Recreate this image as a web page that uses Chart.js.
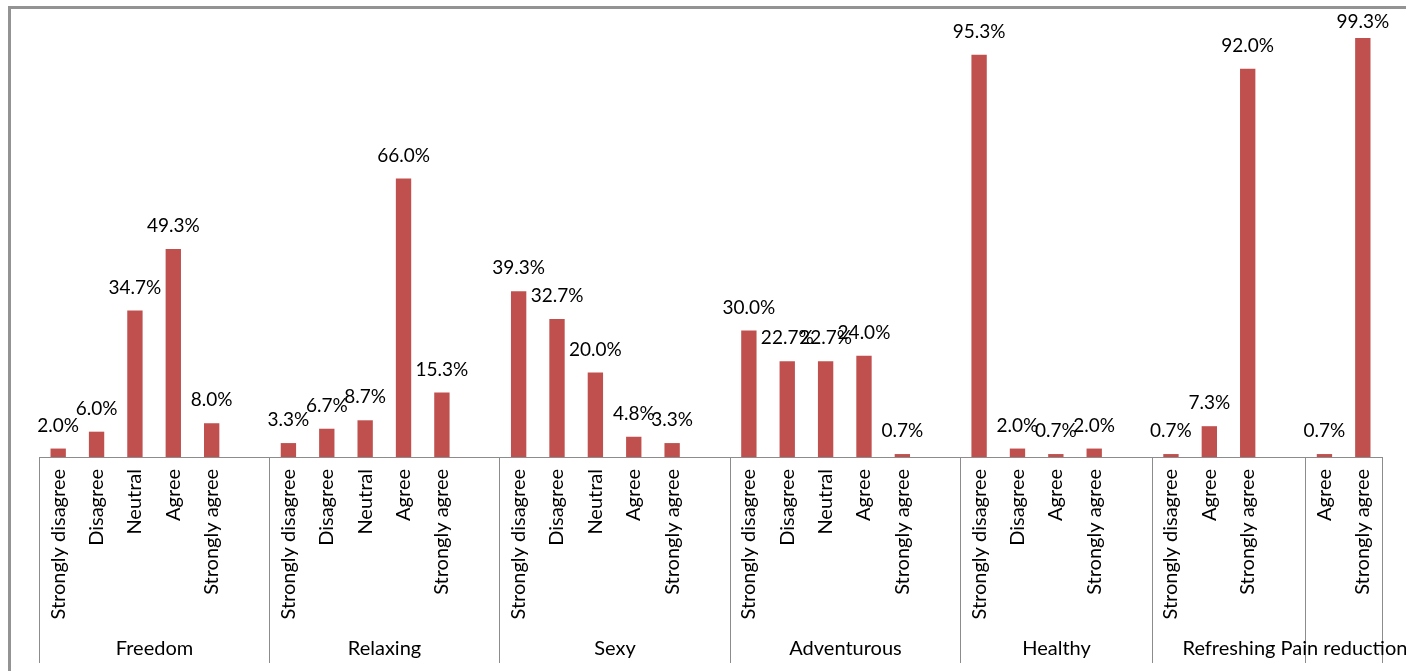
<!DOCTYPE html>
<html>
<head>
<meta charset="utf-8">
<script src="https://cdn.jsdelivr.net/npm/chart.js@4/dist/chart.umd.min.js"></script>
<style>
  html, body { margin: 0; padding: 0; background: #fff; overflow: hidden; }
  #frame { position: absolute; left: 8px; top: 6px; width: 1500px; height: 800px; border: 3px solid #939393; }
  #wrap { position: absolute; left: 0; top: 0; width: 1406px; height: 671px; }
</style>
</head>
<body>
<div id="frame"></div>
<div id="wrap"><canvas id="grafico"></canvas></div>
<script>
// Groups of statements and the answers shown under each one
const grupos = ['Freedom', 'Relaxing', 'Sexy', 'Adventurous', 'Healthy', 'Refreshing', 'Pain reduction'];

const respostas = [
    ['Strongly disagree', 'Disagree', 'Neutral', 'Agree', 'Strongly agree'],
    ['Strongly disagree', 'Disagree', 'Neutral', 'Agree', 'Strongly agree'],
    ['Strongly disagree', 'Disagree', 'Neutral', 'Agree', 'Strongly agree'],
    ['Strongly disagree', 'Disagree', 'Neutral', 'Agree', 'Strongly agree'],
    ['Strongly disagree', 'Disagree', 'Agree', 'Strongly agree'],
    ['Strongly disagree', 'Agree', 'Strongly agree'],
    ['Agree', 'Strongly agree']
];

// Percentages per answer (%)
const percentuais = [
    [2.0, 6.0, 34.7, 49.3, 8.0],
    [3.3, 6.7, 8.7, 66.0, 15.3],
    [39.3, 32.7, 20.0, 4.8, 3.3],
    [30.0, 22.7, 22.7, 24.0, 0.7],
    [95.3, 2.0, 0.7, 2.0],
    [0.7, 7.3, 92.0],
    [0.7, 99.3]
];

const COR_BARRA = '#C0504D';
const COR_EIXO = '#8c8c8c';
const FONTE = 'Lato, "Open Sans", sans-serif';

// Flatten into one category axis, with an empty slot after every group but the last
const rotulos = [];
const valores = [];
const faixas = []; // [first slot, slot after last] of each group
grupos.forEach(function(g, i) {
    const inicio = rotulos.length;
    respostas[i].forEach(function(r, j) {
        rotulos.push(r);
        valores.push(percentuais[i][j]);
    });
    if (i < grupos.length - 1) {
        rotulos.push('');
        valores.push(null);
    }
    faixas.push([inicio, rotulos.length]);
});

// Group separators and group names under the rotated answer labels
const eixoAgrupado = {
    id: 'eixoAgrupado',
    afterDraw(chart) {
        const ctx = chart.ctx;
        const x = chart.scales.x;
        const area = chart.chartArea;
        const passo = x.getPixelForValue(1) - x.getPixelForValue(0);
        const base = chart.height - 8;
        ctx.save();
        ctx.strokeStyle = COR_EIXO;
        ctx.lineWidth = 1;
        faixas.forEach(function(f, i) {
            const x0 = Math.round(x.getPixelForValue(f[0]) - passo / 2) + 0.5;
            const x1 = Math.round(x.getPixelForValue(f[1] - 1) + passo / 2) + 0.5;
            ctx.beginPath();
            ctx.moveTo(x0, area.bottom);
            ctx.lineTo(x0, base);
            if (i === faixas.length - 1) {
                ctx.moveTo(x1, area.bottom);
                ctx.lineTo(x1, base);
            }
            ctx.stroke();
            ctx.fillStyle = '#000';
            ctx.font = '20px ' + FONTE;
            ctx.textAlign = 'center';
            ctx.textBaseline = 'middle';
            ctx.fillText(grupos[i], (x0 + x1) / 2, chart.height - 22);
        });
        ctx.restore();
    }
};

// Percentage text above each bar
const rotulosValor = {
    id: 'rotulosValor',
    afterDatasetsDraw(chart) {
        const ctx = chart.ctx;
        const meta = chart.getDatasetMeta(0);
        ctx.save();
        ctx.fillStyle = '#000';
        ctx.font = '19px ' + FONTE;
        ctx.textAlign = 'center';
        ctx.textBaseline = 'middle';
        meta.data.forEach(function(barra, i) {
            const v = valores[i];
            if (v === null) return;
            const y = Math.max(barra.y - 23, 22);
            ctx.fillText(v.toFixed(1) + '%', barra.x, y);
        });
        ctx.restore();
    }
};

new Chart(document.getElementById('grafico'), {
    type: 'bar',
    data: {
        labels: rotulos,
        datasets: [{
            data: valores,
            backgroundColor: COR_BARRA,
            barPercentage: 0.4,
            categoryPercentage: 1.0
        }]
    },
    options: {
        responsive: true,
        maintainAspectRatio: false,
        animation: false,
        layout: { padding: { top: 35, left: 39, right: 24, bottom: 0 } },
        scales: {
            x: {
                grid: { display: false, drawTicks: false },
                border: { display: true, color: COR_EIXO, width: 1 },
                ticks: {
                    autoSkip: false,
                    minRotation: 90,
                    maxRotation: 90,
                    padding: 12,
                    color: '#000',
                    font: { family: FONTE, size: 20 }
                },
                afterFit(scale) { scale.height = 214; }
            },
            y: {
                display: false,
                min: 0,
                max: 100
            }
        },
        plugins: {
            legend: { display: false },
            tooltip: { enabled: false }
        }
    },
    plugins: [eixoAgrupado, rotulosValor]
});
</script>
</body>
</html>
